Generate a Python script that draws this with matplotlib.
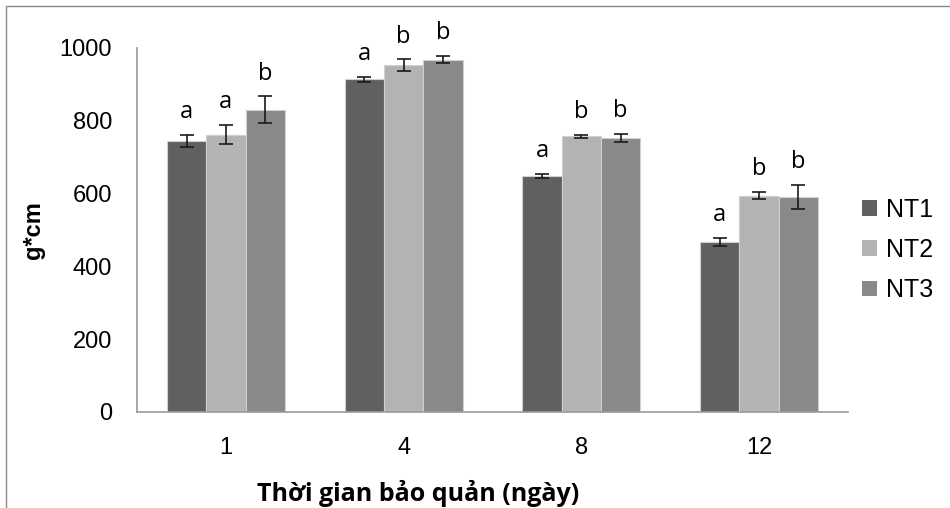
import numpy as np
import matplotlib.pyplot as plt
from matplotlib.patches import Rectangle

days = ['1', '4', '8', '12']
series = ['NT1', 'NT2', 'NT3']
nt1 = [745, 914, 648, 467]
nt2 = [762, 953, 757, 594]
nt3 = [830, 968, 754, 591]
nt1_err = [16, 7, 6, 12]
nt2_err = [27, 16, 4, 10]
nt3_err = [37, 10, 11, 33]
nt1_sig = ['a', 'a', 'a', 'a']
nt2_sig = ['a', 'b', 'b', 'b']
nt3_sig = ['b', 'b', 'b', 'b']

colors = ['#606060', '#b3b3b3', '#898989']

fig = plt.figure(figsize=(9.5, 5.08), dpi=100)
ax = fig.add_axes([137 / 950, 1 - 412 / 508, (848 - 137) / 950, (412 - 48) / 508])

x = np.arange(len(days))
w = 0.221
values = [nt1, nt2, nt3]
errs = [nt1_err, nt2_err, nt3_err]
sigs = [nt1_sig, nt2_sig, nt3_sig]

for i in range(3):
    pos = x + (i - 1) * w
    ax.bar(pos, values[i], w, color=colors[i], edgecolor='#d0d0d0', linewidth=0.8,
           label=series[i], zorder=2)
    ax.errorbar(pos, values[i], yerr=errs[i], fmt='none', ecolor='#1a1a1a',
                elinewidth=1.2, capsize=5, capthick=1.2, zorder=3)
    for xp, v, e, s in zip(pos, values[i], errs[i], sigs[i]):
        ax.annotate(s, (xp, v + e), xytext=(0, 12), textcoords='offset points',
                    ha='center', va='baseline', fontsize=17, family='Open Sans')

ax.set_xlim(-0.5, 3.5)
ax.set_ylim(0, 1000)
ax.set_yticks([0, 200, 400, 600, 800, 1000])
ax.set_xticks(x)
ax.set_xticklabels(days)
ax.tick_params(axis='both', length=0, labelsize=17, pad=18)
for lab in ax.get_xticklabels() + ax.get_yticklabels():
    lab.set_family('Liberation Sans')
for side in ['top', 'right']:
    ax.spines[side].set_visible(False)
for side in ['left', 'bottom']:
    ax.spines[side].set_color('#9a9a9a')
    ax.spines[side].set_linewidth(1.2)

fig.text(33 / 950, 1 - 230 / 508, 'g*cm', rotation=90, ha='center', va='center',
         fontsize=17, fontweight='bold', family='Liberation Sans')
fig.text(418 / 950, 1 - 493 / 508, 'Thời gian bảo quản (ngày)', ha='center', va='center',
         fontsize=18, fontweight='bold', family='Open Sans')

leg = fig.legend(loc='center left', bbox_to_anchor=(852 / 950, 1 - 250 / 508),
                 frameon=False, prop={'family': 'Liberation Sans', 'size': 18},
                 handlelength=0.6, handleheight=0.6, handletextpad=0.35,
                 labelspacing=0.65, borderaxespad=0)
for h in leg.legend_handles:
    h.set_edgecolor('none')

fig.add_artist(Rectangle((6 / 950, -0.2), 2, 1.2 - 6 / 508, transform=fig.transFigure,
                         fill=False, edgecolor='#8a8a8a', linewidth=1.0))

fig.savefig('out.png', dpi=100)
